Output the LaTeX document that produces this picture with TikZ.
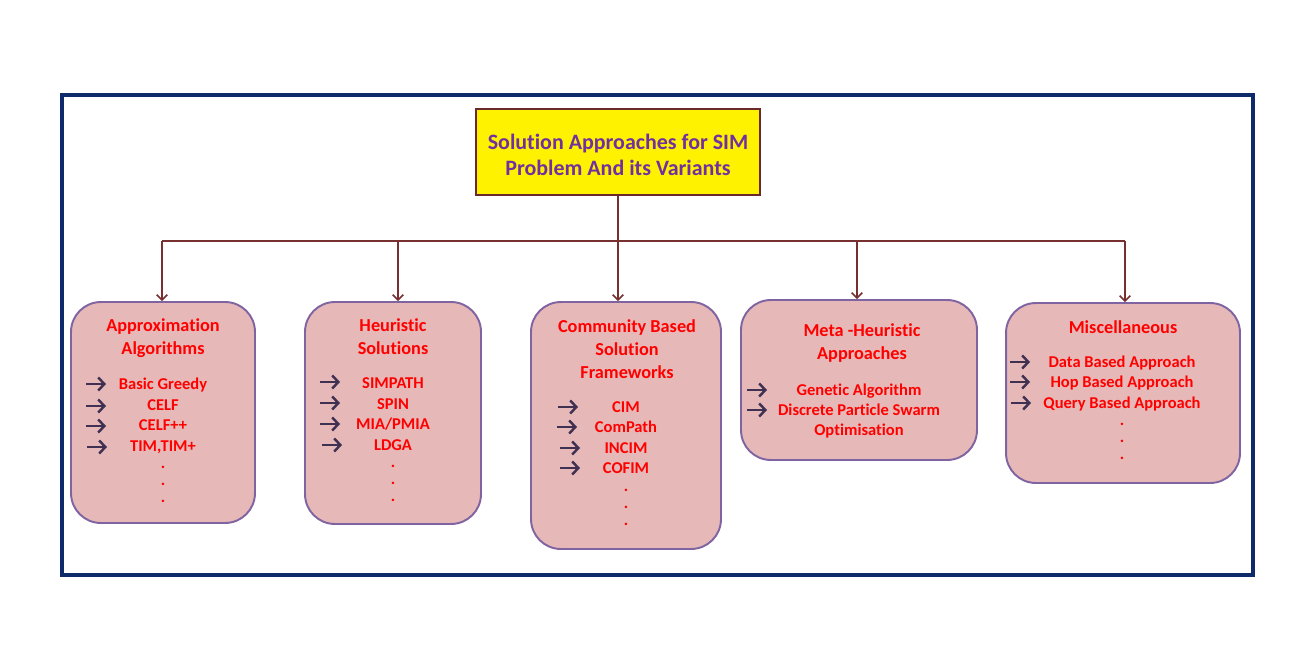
\documentclass[tikz,border=0pt]{standalone}
\usepackage{fontspec}
\setmainfont{Carlito}[Ligatures=NoCommon]
\usetikzlibrary{arrows.meta}
\definecolor{framecol}{HTML}{0F2A6B}
\definecolor{topborder}{HTML}{6B2A2A}
\definecolor{toptext}{HTML}{7030A0}
\definecolor{linkcol}{HTML}{772F2F}
\definecolor{boxfill}{HTML}{E6B9B8}
\definecolor{boxborder}{HTML}{8064A2}
\definecolor{itemred}{HTML}{FF0000}
\definecolor{bulletcol}{HTML}{403152}

\begin{document}
\begin{tikzpicture}[x=0.02cm, y=-0.02cm,
		box/.style={draw=boxborder, fill=boxfill, line width=1.1pt, rounded corners=17pt, inner sep=0pt},
		head/.style={text=itemred, font=\fontsize{10.4}{13.1}\selectfont\bfseries, align=center, inner sep=0pt},
		item/.style={text=itemred, font=\fontsize{9.4}{11.7}\selectfont\bfseries, inner sep=0pt, anchor=base},
		bullet/.style={draw=bulletcol, line width=1.4pt, -{Straight Barb[length=3.5pt, width=7.5pt]}},
		link/.style={draw=linkcol, line width=0.9pt, -{Straight Barb[length=3pt, width=6pt]}}]
				\useasboundingbox (0,0) rectangle (1298,652);
				\draw[framecol, line width=1.8pt] (62,95) rectangle (1253,575);

				\node[draw=topborder, fill=yellow, line width=1.2pt, minimum width=5.68cm, minimum height=1.72cm,
					text=toptext, font=\fontsize{12.5}{14.8}\selectfont\bfseries, align=center]
					(title) at (618,152) {};
				\node[text=toptext, font=\fontsize{12.5}{14.8}\selectfont\bfseries, align=center, inner sep=0pt]
					(titletext) at (618,155) {Solution Approaches for SIM\\Problem And its Variants};

				\node[box, minimum width=3.68cm, minimum height=4.42cm] (approx) at (163,412.5) {};
				\node[box, minimum width=3.52cm, minimum height=4.44cm] (heur) at (393,413) {};
				\node[box, minimum width=3.80cm, minimum height=4.94cm] (comm) at (626,425.5) {};
				\node[box, minimum width=4.72cm, minimum height=3.20cm] (meta) at (859,380) {};
				\node[box, minimum width=4.68cm, minimum height=3.60cm] (misc) at (1123,393) {};

				\coordinate (b1) at (162,241);
				\coordinate (b2) at (398,241);
				\coordinate (b3) at (618,241);
				\coordinate (b4) at (857,241);
				\coordinate (b5) at (1125,241);
				\draw[linkcol, line width=0.9pt] (b1) -- (b5);
				\draw[linkcol, line width=0.9pt] (title.south) -- (b3);
				\draw[link] (b1) -- (b1 |- approx.north);
				\draw[link] (b2) -- (b2 |- heur.north);
				\draw[link] (b3) -- (b3 |- comm.north);
				\draw[link] (b4) -- (b4 |- meta.north);
				\draw[link] (b5) -- (b5 |- misc.north);

				% Approximation Algorithms
				\node[head] (approxhead) at (163,338.5) {Approximation\\Algorithms};
				\node[item] (a1) at (163,389) {Basic Greedy};
				\node[item] (a2) at (163,410) {CELF};
				\node[item] (a3) at (163,430) {CELF++};
				\node[item] (a4) at (163,451) {TIM,TIM+};
				\node[item] (a5) at (163,468) {.};
				\node[item] (a6) at (163,485) {.};
				\node[item] (a7) at (163,502) {.};
				\draw[bullet] (86,384) -- (106,384);
				\draw[bullet] (86,406) -- (106,406);
				\draw[bullet] (86,426) -- (106,426);
				\draw[bullet] (87,447) -- (107,447);

				% Heuristic Solutions
				\node[head] (heurhead) at (393,337) {Heuristic\\Solutions};
				\node[item] (h1) at (393,388) {SIMPATH};
				\node[item] (h2) at (393,409) {SPIN};
				\node[item] (h3) at (393,429) {MIA/PMIA};
				\node[item] (h4) at (393,450) {LDGA};
				\node[item] (h5) at (393,467) {.};
				\node[item] (h6) at (393,484) {.};
				\node[item] (h7) at (393,501) {.};
				\draw[bullet] (320,382) -- (340,382);
				\draw[bullet] (320,403) -- (340,403);
				\draw[bullet] (320,424) -- (340,424);
				\draw[bullet] (322,445) -- (342,445);

				% Community Based Solution Frameworks
				\node[head] (commhead) at (627,349.5) {Community Based\\Solution\\Frameworks};
				\node[item] (c1) at (626,412) {CIM};
				\node[item] (c2) at (626,432) {ComPath};
				\node[item] (c3) at (626,453) {INCIM};
				\node[item] (c4) at (626,473) {COFIM};
				\node[item] (c5) at (626,491) {.};
				\node[item] (c6) at (626,508) {.};
				\node[item] (c7) at (626,525) {.};
				\draw[bullet] (558,407) -- (578,407);
				\draw[bullet] (557,427) -- (577,427);
				\draw[bullet] (560,448) -- (580,448);
				\draw[bullet] (560,468) -- (580,468);

				% Meta-Heuristic Approaches
				\node[head] (metahead) at (862,343.5) {Meta -Heuristic\\Approaches};
				\node[item] (m1) at (859,395) {Genetic Algorithm};
				\node[item] (m2) at (859,415) {Discrete Particle Swarm};
				\node[item] (m3) at (859,435) {Optimisation};
				\draw[bullet] (747,390) -- (767,390);
				\draw[bullet] (747,410) -- (767,410);

				% Miscellaneous
				\node[head] (mischead) at (1123,327) {Miscellaneous};
				\node[item] (s1) at (1122,367) {Data Based Approach};
				\node[item] (s2) at (1122,387) {Hop Based Approach};
				\node[item] (s3) at (1122,408) {Query Based Approach};
				\node[item] (s4) at (1122,425) {.};
				\node[item] (s5) at (1122,442) {.};
				\node[item] (s6) at (1122,459) {.};
				\draw[bullet] (1010,362) -- (1030,362);
				\draw[bullet] (1010,382) -- (1030,382);
				\draw[bullet] (1011,403) -- (1031,403);
			\end{tikzpicture}
\end{document}
